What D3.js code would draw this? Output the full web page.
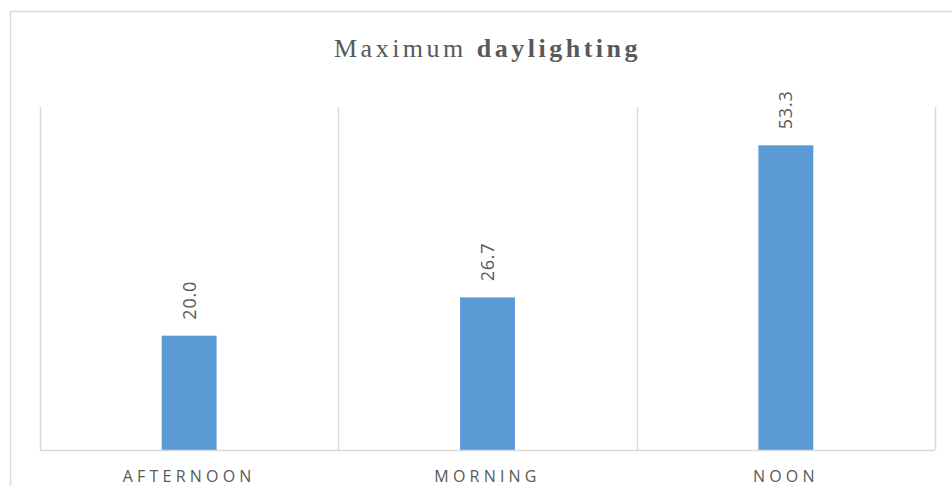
<!DOCTYPE html>
<html>
<head>
<meta charset="utf-8">
<script src="https://cdn.jsdelivr.net/npm/d3@7"></script>
<style>
  html, body { margin: 0; padding: 0; background: #fff; overflow: hidden; }
  svg { display: block; }
</style>
</head>
<body>
<svg id="chart" width="952" height="486"></svg>
<script>
// Daylighting share by time of day
const categories = ["AFTERNOON", "MORNING", "NOON"];
const values = [20.0, 26.7, 53.3];
const yMax = 60;

const svg = d3.select("#chart");
const plot = { left: 40, right: 935, top: 107, bottom: 450 };
const textColor = "#595959";
const lineColor = "#d9d9d9";

// Outer chart frame (runs past the right and bottom edges)
svg.append("path")
  .attr("d", "M10.5,486V11.5H952")
  .attr("fill", "none")
  .attr("stroke", lineColor)
  .attr("stroke-width", 1.5);

const x = d3.scaleBand()
  .domain(categories)
  .range([plot.left, plot.right])
  .paddingInner(0)
  .paddingOuter(0);

const y = d3.scaleLinear()
  .domain([0, yMax])
  .range([plot.bottom, plot.top]);

// Vertical category separators
const bounds = categories.map(c => x(c)).concat([x(categories[categories.length - 1]) + x.bandwidth()]);
svg.append("g")
  .selectAll("line")
  .data(bounds)
  .join("line")
  .attr("x1", d => Math.round(d) + 0.5)
  .attr("x2", d => Math.round(d) + 0.5)
  .attr("y1", plot.top)
  .attr("y2", plot.bottom)
  .attr("stroke", lineColor)
  .attr("stroke-width", 1.5);

// Bars
const barW = x.bandwidth() * 0.184;
svg.append("g")
  .selectAll("rect")
  .data(values)
  .join("rect")
  .attr("x", (d, i) => x(categories[i]) + x.bandwidth() / 2 - barW / 2)
  .attr("y", d => y(d))
  .attr("width", barW)
  .attr("height", d => y(0) - y(d))
  .attr("fill", "#5b9bd5");

// Category axis
const xAxis = svg.append("g")
  .attr("transform", `translate(0,${plot.bottom})`)
  .call(d3.axisBottom(x).tickSize(0).tickPadding(0));
xAxis.select(".domain")
  .attr("stroke", lineColor)
  .attr("stroke-width", 1.5)
  .attr("d", `M${plot.left},0.5H${plot.right}`);
xAxis.selectAll(".tick text")
  .attr("y", 32)
  .attr("dy", 0)
  .attr("fill", textColor)
  .style("font-family", "'Open Sans', sans-serif")
  .style("font-size", "16px")
  .style("letter-spacing", "4.2px");

// Value labels, rotated above bars
svg.append("g")
  .selectAll("text")
  .data(values)
  .join("text")
  .attr("transform", (d, i) => {
    const cx = x(categories[i]) + x.bandwidth() / 2;
    return `translate(${cx + 6.5},${y(d) - 16}) rotate(-90)`;
  })
  .attr("text-anchor", "start")
  .attr("fill", textColor)
  .style("font-family", "'Open Sans', sans-serif")
  .style("font-size", "18px")
  .style("letter-spacing", "0.8px")
  .text(d => d.toFixed(1));

// Title
const title = svg.append("text")
  .attr("x", (plot.left + plot.right) / 2)
  .attr("y", 57)
  .attr("text-anchor", "middle")
  .attr("fill", textColor)
  .style("font-family", "'Liberation Serif', 'Times New Roman', serif")
  .style("font-size", "26px")
  .style("letter-spacing", "3.5px");
title.append("tspan").text("Maximum ");
title.append("tspan").attr("font-weight", "bold").text("daylighting");
</script>
</body>
</html>
